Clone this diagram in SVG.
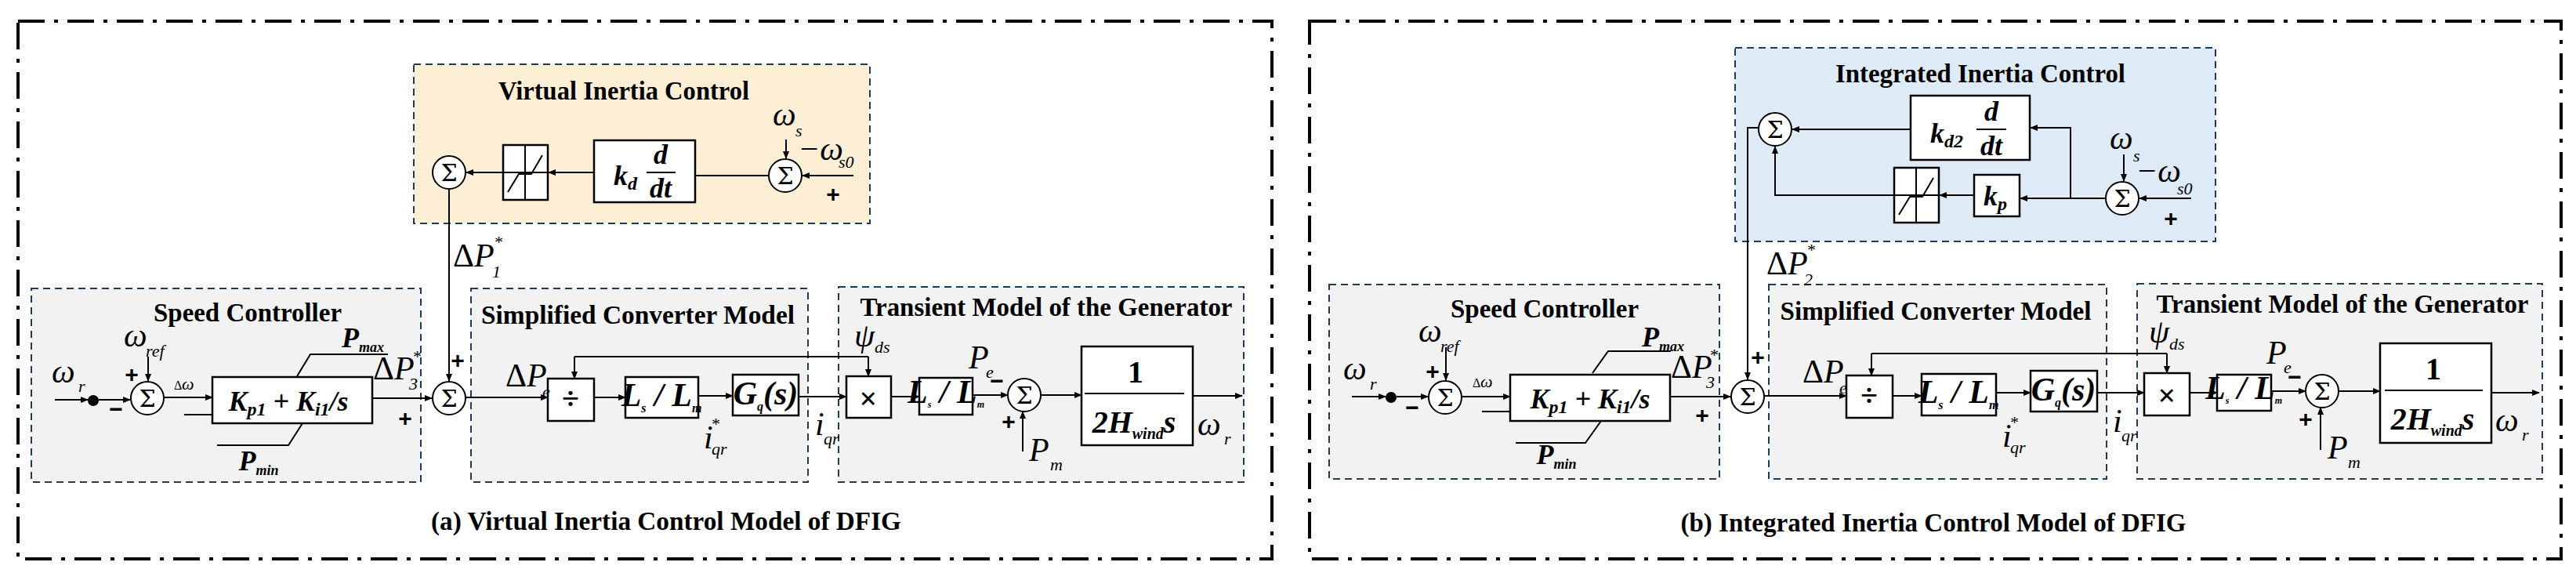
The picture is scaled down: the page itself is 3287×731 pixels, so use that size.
<svg xmlns="http://www.w3.org/2000/svg" width="3287" height="731" viewBox="0 0 3287 731">
<style>
.frame{fill:none;stroke:#000;stroke-width:4;stroke-dasharray:34 12 5 12}
.sub{stroke:#1f3b5a;stroke-width:2;stroke-dasharray:9 6}
.blk{fill:#fff;stroke:#000;stroke-width:2.5}
.ln{fill:none;stroke:#000;stroke-width:2}
.ar{fill:none;stroke:#000;stroke-width:2;marker-end:url(#ah)}
.sum{fill:#fff;stroke:#000;stroke-width:2}
.ttl{font-family:"Liberation Serif",serif;font-weight:bold;font-size:34px;text-anchor:middle}
.m{font-family:"Liberation Serif",serif;font-style:italic;font-size:42px}
.ms{font-family:"Liberation Serif",serif;font-style:italic;font-size:22px}
.up{font-style:normal}
.pl{font-family:"Liberation Sans",sans-serif;font-weight:bold;font-size:30px;text-anchor:middle}
.sg{font-family:"DejaVu Serif",serif;font-size:30px;text-anchor:middle}
.bi{font-family:"Liberation Serif",serif;font-style:italic;font-weight:bold;font-size:36px;text-anchor:middle}
.bb{font-family:"Liberation Serif",serif;font-weight:bold;font-size:40px;text-anchor:middle}
</style>
<defs>
<marker id="ah" markerWidth="10" markerHeight="8" refX="9" refY="4" orient="auto" markerUnits="userSpaceOnUse"><path d="M0,0 L10,4 L0,8 Z"/></marker>
<g id="sig"><circle class="sum" r="21"/><text class="sg" y="11">Σ</text></g>
<g id="sat"><path class="ln" d="M-22,25 L-8,2 L8,2 L22,-22 M0,-35 L0,35 M-30,0 L30,0" stroke-width="1.5"/></g>
</defs>

<!-- ============ Panel (a) ============ -->
<rect class="frame" x="23" y="27" width="1600" height="686"/>
<g id="vic-box"><rect class="sub" x="528" y="82" width="582" height="203" fill="#fcefd5"/><text class="ttl" x="796" y="127" textLength="320" lengthAdjust="spacingAndGlyphs">Virtual Inertia Control</text></g>
<g id="spd-a"><rect class="sub" x="40" y="368" width="497" height="247" fill="#f2f2f2"/><text class="ttl" x="316" y="410" textLength="240" lengthAdjust="spacingAndGlyphs">Speed Controller</text></g>
<g id="conv-a"><rect class="sub" x="601" y="368" width="430" height="247" fill="#f2f2f2"/><text class="ttl" x="814" y="413" textLength="400" lengthAdjust="spacingAndGlyphs">Simplified Converter Model</text></g>
<g id="gen-a"><rect class="sub" x="1070" y="366" width="517" height="249" fill="#f2f2f2"/><text class="ttl" x="1335" y="403" textLength="475" lengthAdjust="spacingAndGlyphs">Transient Model of the Generator</text></g>

<g id="sumv-a"><use href="#sig" x="573" y="220"/></g>
<g id="sat-a"><rect class="blk" x="642" y="185" width="57" height="70"/><use href="#sat" x="670" y="220"/></g>
<g id="kd-a"><rect class="blk" x="758" y="179" width="129" height="79"/><text class="bi" x="798" y="236">k<tspan font-size="24" dy="6">d</tspan></text><text class="bi" x="843" y="209">d</text><line class="ln" x1="825" y1="220" x2="862" y2="220"/><text class="bi" x="843" y="252">dt</text></g>
<g id="sumw-a"><use href="#sig" x="1002" y="224"/><text class="m" x="986" y="160" font-size="38">ω</text><text class="ms" x="1015" y="174" font-size="18">s</text><text class="m" x="1018" y="204" font-size="38">−ω</text><text class="ms" x="1070" y="214" font-size="20">s0</text><text class="pl" x="1063" y="258">+</text></g>

<g id="in-a"><text class="m" x="66" y="488">ω</text><text class="ms" x="100" y="500" font-size="20">r</text><circle cx="119" cy="511" r="7"/></g>
<g id="sum1-a"><use href="#sig" x="188" y="508"/><text class="m" x="158" y="442">ω</text><text class="ms" x="186" y="455" font-size="20">ref</text><text class="pl" x="168" y="488">+</text><text class="pl" x="148" y="532">−</text></g>
<g id="pi-a"><rect class="blk" x="271" y="481" width="204" height="59"/><text class="bi" x="368" y="524">K<tspan font-size="24" dy="6">p1</tspan><tspan dy="-6"> + K</tspan><tspan font-size="24" dy="6">i1</tspan><tspan dy="-6">/s</tspan></text>
<path class="ln" d="M379,480 L396,452 L495,452 M386,540 L368,568 L277,568" stroke-width="1.5"/>
<text class="bi" x="463" y="443" font-size="26">P<tspan font-size="18" dy="6">max</tspan></text><text class="bi" x="330" y="600" font-size="26">P<tspan font-size="18" dy="6">min</tspan></text>
<text font-family="Liberation Serif,serif" font-size="16" x="222" y="497">Δ</text><text class="ms" x="232" y="497" font-size="26">ω</text></g>
<g id="summ-a"><use href="#sig" x="573" y="508"/><text class="m" x="578" y="340"><tspan class="up">Δ</tspan>P</text><text class="ms" x="630" y="316" font-size="18">*</text><text class="ms" x="628" y="354" font-size="20">1</text><text class="pl" x="584" y="470">+</text><text class="m" x="476" y="484" font-size="40"><tspan class="up">Δ</tspan>P</text><text class="ms" x="526" y="462" font-size="18">*</text><text class="ms" x="522" y="497" font-size="18">3</text><text class="pl" x="517" y="544">+</text></g>
<g id="div-a"><rect class="blk" x="699" y="483" width="59" height="54"/><text class="bb" x="728" y="522">÷</text><text class="m" x="645" y="493"><tspan class="up">Δ</tspan>P</text><text class="ms" x="692" y="507" font-size="18">e</text></g>
<g id="ls-a"><rect class="blk" x="798" y="481" width="93" height="52"/><text class="m" x="844" y="518" font-weight="bold" text-anchor="middle" font-size="32">L<tspan font-size="16" dy="8">s</tspan><tspan dy="-8"> / L</tspan><tspan font-size="16" dy="8">m</tspan></text><text class="m" x="898" y="572" font-size="36">i</text><text class="ms" x="907" y="548" font-size="18">*</text><text class="ms" x="908" y="580" font-size="18">qr</text></g>
<g id="gq-a"><rect class="blk" x="935" y="478" width="84" height="52"/><text class="m" x="977" y="516" font-weight="bold" text-anchor="middle" font-size="34">G<tspan font-size="16" dy="8">q</tspan><tspan dy="-8">(s)</tspan></text><text class="m" x="1040" y="555" font-size="36">i</text><text class="ms" x="1051" y="567" font-size="18">qr</text></g>
<g id="mul-a"><rect class="blk" x="1080" y="480" width="57" height="53"/><text class="bb" x="1108" y="522" font-weight="normal" font-size="44">×</text><text class="m" x="1090" y="442" font-size="32">ψ</text><text class="ms" x="1116" y="450" font-size="18">ds</text></g>
<g id="lsg-a"><rect class="blk" x="1173" y="482" width="68" height="47"/><text class="m" x="1207" y="514" font-weight="bold" text-anchor="middle" font-size="24">L<tspan font-size="12" dy="6">s</tspan><tspan dy="-6"> / L</tspan><tspan font-size="12" dy="6">m</tspan></text></g>
<g id="sumg-a"><use href="#sig" x="1307" y="504"/><text class="m" x="1236" y="470">P</text><text class="ms" x="1258" y="482" font-size="18">e</text><text class="pl" x="1272" y="496">−</text><text class="pl" x="1287" y="548">+</text><text class="m" x="1313" y="588">P</text><text class="ms" x="1340" y="600" font-size="18">m</text></g>
<g id="h-a"><rect class="blk" x="1380" y="442" width="142" height="126"/><text class="bb" x="1449" y="488" font-size="44">1</text><line class="ln" x1="1384" y1="502" x2="1511" y2="502"/><text class="bb" x="1447" y="552" font-style="italic" font-size="42">2H<tspan font-size="20" dy="8">wind</tspan><tspan dy="-8">s</tspan></text><text class="m" x="1528" y="555">ω</text><text class="ms" x="1562" y="567" font-size="20">r</text></g>

<g id="conn-a">
<path class="ln" d="M981,224 L887,224" stroke-width="3"/>
<path class="ar" d="M758,220 L700,220"/>
<path class="ar" d="M642,220 L595,220"/>
<path class="ar" d="M1089,224 L1024,224"/>
<path class="ar" d="M1003,178 L1003,202"/>
<path class="ar" d="M573,241 L573,486"/>
<path class="ar" d="M70,510 L112,510"/>
<path class="ar" d="M126,510 L166,510"/>
<path class="ar" d="M189,455 L189,486"/>
<path class="ar" d="M209,507 L271,507"/>
<path class="ln" d="M235,529 L271,529"/>
<path class="ar" d="M475,508 L551,508"/>
<path class="ar" d="M594,507 L699,507"/>
<path class="ar" d="M758,507 L798,507"/>
<path class="ar" d="M891,505 L935,505"/>
<path class="ar" d="M1019,506 L1080,506"/>
<path class="ln" d="M733,455 L1108,455"/>
<path class="ar" d="M733,455 L733,483"/>
<path class="ar" d="M1108,455 L1108,480"/>
<path class="ar" d="M1137,506 L1173,506"/>
<path class="ar" d="M1241,504 L1286,504"/>
<path class="ar" d="M1305,576 L1305,525"/>
<path class="ar" d="M1328,504 L1380,504"/>
<path class="ar" d="M1522,505 L1585,505"/>
</g>
<text class="ttl" x="850" y="676" textLength="600" lengthAdjust="spacingAndGlyphs">(a)  Virtual Inertia Control Model of DFIG</text>

<!-- ============ Panel (b) ============ -->
<rect class="frame" x="1671" y="27" width="1597" height="686"/>
<g id="iic-box"><rect class="sub" x="2214" y="61" width="613" height="247" fill="#deebf7"/><text class="ttl" x="2527" y="105" textLength="370" lengthAdjust="spacingAndGlyphs">Integrated Inertia Control</text></g>
<g id="spd-b"><rect class="sub" x="1696" y="363" width="498" height="248" fill="#f2f2f2"/><text class="ttl" x="1971" y="405" textLength="240" lengthAdjust="spacingAndGlyphs">Speed Controller</text></g>
<g id="conv-b"><rect class="sub" x="2257" y="363" width="431" height="248" fill="#f2f2f2"/><text class="ttl" x="2470" y="408" textLength="397" lengthAdjust="spacingAndGlyphs">Simplified Converter Model</text></g>
<g id="gen-b"><rect class="sub" x="2727" y="362" width="517" height="249" fill="#f2f2f2"/><text class="ttl" x="2989" y="399" textLength="475" lengthAdjust="spacingAndGlyphs">Transient Model of the Generator</text></g>

<g id="sumv-b"><use href="#sig" x="2265" y="165"/></g>
<g id="kd-b"><rect class="blk" x="2438" y="122" width="152" height="82"/><text class="bi" x="2484" y="182">k<tspan font-size="24" dy="6">d2</tspan></text><text class="bi" x="2541" y="154">d</text><line class="ln" x1="2522" y1="165" x2="2560" y2="165"/><text class="bi" x="2541" y="198">dt</text></g>
<g id="sat-b"><rect class="blk" x="2417" y="214" width="57" height="70"/><use href="#sat" x="2445" y="249"/></g>
<g id="kp-b"><rect class="blk" x="2519" y="223" width="58" height="53"/><text class="bi" x="2546" y="262">k<tspan font-size="24" dy="6">p</tspan></text></g>
<g id="sumw-b"><use href="#sig" x="2708" y="253"/><text class="m" x="2692" y="190" font-size="38">ω</text><text class="ms" x="2722" y="206" font-size="18">s</text><text class="m" x="2725" y="232" font-size="38">−ω</text><text class="ms" x="2778" y="248" font-size="20">s0</text><text class="pl" x="2770" y="289">+</text></g>

<g id="in-b"><text class="m" x="1714" y="484">ω</text><text class="ms" x="1748" y="497" font-size="20">r</text><circle cx="1775" cy="507" r="7"/></g>
<g id="sum1-b"><use href="#sig" x="1844" y="507"/><text class="m" x="1810" y="436">ω</text><text class="ms" x="1838" y="449" font-size="20">ref</text><text class="pl" x="1828" y="484">+</text><text class="pl" x="1802" y="530">−</text></g>
<g id="pi-b"><rect class="blk" x="1927" y="478" width="204" height="59"/><text class="bi" x="2029" y="521">K<tspan font-size="24" dy="6">p1</tspan><tspan dy="-6"> + K</tspan><tspan font-size="24" dy="6">i1</tspan><tspan dy="-6">/s</tspan></text>
<path class="ln" d="M2032,476 L2052,448 L2132,448 M2043,537 L2023,565 L1934,565" stroke-width="1.5"/>
<text class="bi" x="2122" y="442" font-size="26">P<tspan font-size="18" dy="6">max</tspan></text><text class="bi" x="1986" y="592" font-size="26">P<tspan font-size="18" dy="6">min</tspan></text>
<text font-family="Liberation Serif,serif" font-size="16" x="1879" y="494">Δ</text><text class="ms" x="1889" y="494" font-size="26">ω</text></g>
<g id="summ-b"><use href="#sig" x="2230" y="506"/><text class="m" x="2254" y="350"><tspan class="up">Δ</tspan>P</text><text class="ms" x="2305" y="326" font-size="18">*</text><text class="ms" x="2302" y="364" font-size="20">2</text><text class="pl" x="2243" y="466">+</text><text class="m" x="2132" y="482" font-size="40"><tspan class="up">Δ</tspan>P</text><text class="ms" x="2181" y="460" font-size="18">*</text><text class="ms" x="2177" y="495" font-size="18">3</text><text class="pl" x="2172" y="540">+</text></g>
<g id="div-b"><rect class="blk" x="2356" y="479" width="59" height="54"/><text class="bb" x="2385" y="518">÷</text><text class="m" x="2300" y="488"><tspan class="up">Δ</tspan>P</text><text class="ms" x="2347" y="502" font-size="18">e</text></g>
<g id="ls-b"><rect class="blk" x="2452" y="477" width="95" height="53"/><text class="m" x="2499" y="514" font-weight="bold" text-anchor="middle" font-size="32">L<tspan font-size="16" dy="8">s</tspan><tspan dy="-8"> / L</tspan><tspan font-size="16" dy="8">m</tspan></text><text class="m" x="2555" y="570" font-size="36">i</text><text class="ms" x="2564" y="546" font-size="18">*</text><text class="ms" x="2565" y="578" font-size="18">qr</text></g>
<g id="gq-b"><rect class="blk" x="2591" y="473" width="85" height="52"/><text class="m" x="2633" y="511" font-weight="bold" text-anchor="middle" font-size="34">G<tspan font-size="16" dy="8">q</tspan><tspan dy="-8">(s)</tspan></text><text class="m" x="2696" y="551" font-size="36">i</text><text class="ms" x="2707" y="563" font-size="18">qr</text></g>
<g id="mul-b"><rect class="blk" x="2736" y="476" width="58" height="54"/><text class="bb" x="2765" y="518" font-weight="normal" font-size="44">×</text><text class="m" x="2742" y="437" font-size="32">ψ</text><text class="ms" x="2768" y="446" font-size="18">ds</text></g>
<g id="lsg-b"><rect class="blk" x="2829" y="478" width="69" height="46"/><text class="m" x="2863" y="509" font-weight="bold" text-anchor="middle" font-size="24">L<tspan font-size="12" dy="6">s</tspan><tspan dy="-6"> / L</tspan><tspan font-size="12" dy="6">m</tspan></text></g>
<g id="sumg-b"><use href="#sig" x="2963" y="499"/><text class="m" x="2892" y="464">P</text><text class="ms" x="2914" y="476" font-size="18">e</text><text class="pl" x="2928" y="491">−</text><text class="pl" x="2942" y="545">+</text><text class="m" x="2970" y="585">P</text><text class="ms" x="2996" y="597" font-size="18">m</text></g>
<g id="h-b"><rect class="blk" x="3037" y="438" width="142" height="127"/><text class="bb" x="3105" y="484" font-size="44">1</text><line class="ln" x1="3043" y1="498" x2="3168" y2="498"/><text class="bb" x="3104" y="548" font-style="italic" font-size="42">2H<tspan font-size="20" dy="8">wind</tspan><tspan dy="-8">s</tspan></text><text class="m" x="3184" y="550">ω</text><text class="ms" x="3218" y="562" font-size="20">r</text></g>

<g id="conn-b">
<path class="ar" d="M2438,165 L2287,165"/>
<path class="ar" d="M2642,253 L2642,163 L2591,163"/>
<path class="ar" d="M2687,253 L2578,253"/>
<path class="ar" d="M2519,249 L2475,249"/>
<path class="ar" d="M2417,249 L2265,249 L2265,187"/>
<path class="ar" d="M2796,253 L2730,253"/>
<path class="ar" d="M2710,197 L2710,231"/>
<path class="ar" d="M2244,163 L2230,163 L2230,484" stroke="#888" stroke-width="1.5"/>
<path class="ar" d="M1725,506 L1768,506"/>
<path class="ar" d="M1782,506 L1822,506"/>
<path class="ar" d="M1845,443 L1845,485"/>
<path class="ar" d="M1866,506 L1927,506"/>
<path class="ln" d="M1891,525 L1927,525"/>
<path class="ar" d="M2131,506 L2208,506"/>
<path class="ar" d="M2251,505 L2356,505"/>
<path class="ar" d="M2415,505 L2452,505"/>
<path class="ar" d="M2548,501 L2591,501"/>
<path class="ar" d="M2676,501 L2736,501"/>
<path class="ln" d="M2388,451 L2765,451"/>
<path class="ar" d="M2388,451 L2388,479"/>
<path class="ar" d="M2765,451 L2765,476"/>
<path class="ar" d="M2794,501 L2829,501"/>
<path class="ar" d="M2898,499 L2942,499"/>
<path class="ar" d="M2961,574 L2961,520"/>
<path class="ar" d="M2984,499 L3037,499"/>
<path class="ar" d="M3179,501 L3240,501"/>
</g>
<text class="ttl" x="2467" y="678" textLength="645" lengthAdjust="spacingAndGlyphs">(b) Integrated Inertia Control Model of DFIG</text>
</svg>
